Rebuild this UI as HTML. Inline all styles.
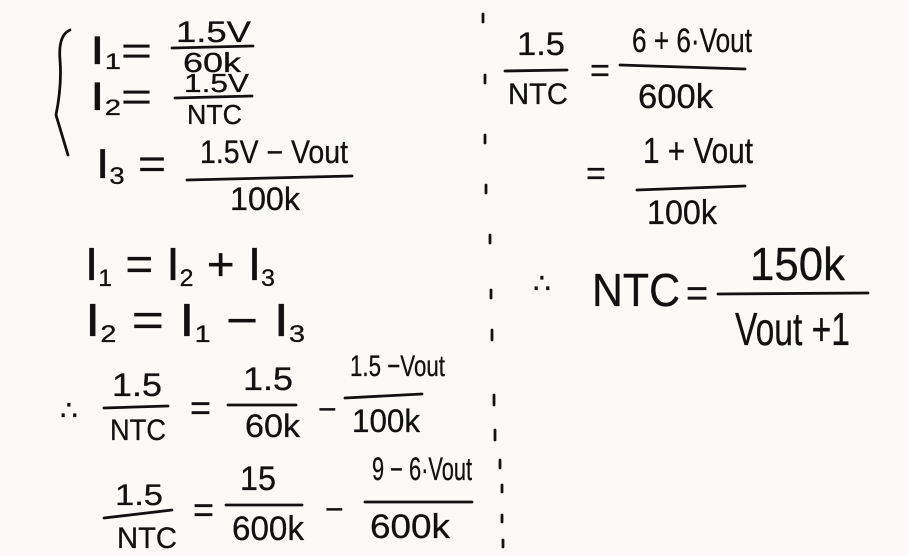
<!DOCTYPE html>
<html><head><meta charset="utf-8"><style>
html,body{margin:0;padding:0;background:#fbfaf6;}
svg{display:block}
text{font-family:"Liberation Sans",sans-serif;fill:#111;stroke:#111;stroke-width:0.3}
line,path{stroke:#111;stroke-width:2.8;stroke-linecap:round;fill:none}
</style></head><body>
<svg width="909" height="556" viewBox="0 0 909 556">
<path d="M70 30 Q58 35 60 60 Q62 85 56 115 Q62 135 68 155"/>
<text x="90" y="64" font-size="40" textLength="62" lengthAdjust="spacingAndGlyphs">I<tspan font-size="22" dy="5">1</tspan><tspan dy="-5">=</tspan></text>
<text x="176" y="42" font-size="30" textLength="75" lengthAdjust="spacingAndGlyphs">1.5V</text>
<line x1="172" y1="48" x2="253" y2="46"/>
<text x="183" y="72" font-size="28" textLength="58" lengthAdjust="spacingAndGlyphs">60k</text>
<text x="90" y="110" font-size="40" textLength="62" lengthAdjust="spacingAndGlyphs">I<tspan font-size="22" dy="5">2</tspan><tspan dy="-5">=</tspan></text>
<text x="184" y="92" font-size="26" textLength="65" lengthAdjust="spacingAndGlyphs">1.5V</text>
<line x1="175" y1="98" x2="252" y2="96"/>
<text x="187" y="124" font-size="28" textLength="55" lengthAdjust="spacingAndGlyphs">NTC</text>
<text x="96" y="178" font-size="42" textLength="70" lengthAdjust="spacingAndGlyphs">I<tspan font-size="24" dy="6">3</tspan><tspan dy="-6"> =</tspan></text>
<text x="200" y="163" font-size="32" textLength="148" lengthAdjust="spacingAndGlyphs">1.5V − Vout</text>
<line x1="187" y1="180" x2="352" y2="176"/>
<text x="230" y="210" font-size="32" textLength="70" lengthAdjust="spacingAndGlyphs">100k</text>
<text x="85" y="280" font-size="46" textLength="190" lengthAdjust="spacingAndGlyphs">I<tspan font-size="24" dy="6">1</tspan><tspan dy="-6"> = I</tspan><tspan font-size="24" dy="6">2</tspan><tspan dy="-6"> + I</tspan><tspan font-size="24" dy="6">3</tspan></text>
<text x="85" y="336" font-size="46" textLength="220" lengthAdjust="spacingAndGlyphs">I<tspan font-size="24" dy="6">2</tspan><tspan dy="-6"> = I</tspan><tspan font-size="24" dy="6">1</tspan><tspan dy="-6"> − I</tspan><tspan font-size="24" dy="6">3</tspan></text>
<text x="60" y="420" font-size="28">∴</text>
<text x="112" y="396" font-size="32" textLength="50" lengthAdjust="spacingAndGlyphs">1.5</text>
<line x1="104" y1="408" x2="168" y2="406"/>
<text x="110" y="440" font-size="30" textLength="56" lengthAdjust="spacingAndGlyphs">NTC</text>
<text x="190" y="420" font-size="36">=</text>
<text x="243" y="390" font-size="32" textLength="50" lengthAdjust="spacingAndGlyphs">1.5</text>
<line x1="228" y1="405" x2="296" y2="405"/>
<text x="245" y="437" font-size="32" textLength="55" lengthAdjust="spacingAndGlyphs">60k</text>
<text x="318" y="420" font-size="32">−</text>
<text x="350" y="376" font-size="30" textLength="95" lengthAdjust="spacingAndGlyphs">1.5 −Vout</text>
<line x1="345" y1="398" x2="422" y2="394"/>
<text x="352" y="432" font-size="32" textLength="68" lengthAdjust="spacingAndGlyphs">100k</text>
<text x="115" y="505" font-size="30" textLength="48" lengthAdjust="spacingAndGlyphs">1.5</text>
<line x1="104" y1="518" x2="172" y2="510"/>
<text x="117" y="548" font-size="30" textLength="60" lengthAdjust="spacingAndGlyphs">NTC</text>
<text x="193" y="522" font-size="36">=</text>
<text x="240" y="490" font-size="34" textLength="36" lengthAdjust="spacingAndGlyphs">15</text>
<line x1="226" y1="505" x2="302" y2="505"/>
<text x="232" y="540" font-size="34" textLength="72" lengthAdjust="spacingAndGlyphs">600k</text>
<text x="325" y="520" font-size="32">−</text>
<text x="372" y="480" font-size="32" textLength="100" lengthAdjust="spacingAndGlyphs">9 − 6·Vout</text>
<line x1="365" y1="502" x2="472" y2="502"/>
<text x="370" y="538" font-size="34" textLength="80" lengthAdjust="spacingAndGlyphs">600k</text>
<g>
<line x1="483" y1="14" x2="483" y2="22"/><line x1="485" y1="75" x2="485" y2="83"/><line x1="485" y1="135" x2="485" y2="143"/>
<line x1="486" y1="185" x2="486" y2="193"/><line x1="490" y1="235" x2="490" y2="243"/><line x1="491" y1="290" x2="491" y2="298"/>
<line x1="492" y1="330" x2="492" y2="340"/><line x1="494" y1="395" x2="494" y2="405"/><line x1="495" y1="430" x2="495" y2="440"/>
<line x1="500" y1="460" x2="500" y2="468"/><line x1="502" y1="485" x2="502" y2="492"/><line x1="502" y1="515" x2="502" y2="522"/><line x1="503" y1="540" x2="503" y2="547"/>
</g>
<text x="517" y="55" font-size="32" textLength="48" lengthAdjust="spacingAndGlyphs">1.5</text>
<line x1="505" y1="71" x2="567" y2="70"/>
<text x="508" y="104" font-size="30" textLength="60" lengthAdjust="spacingAndGlyphs">NTC</text>
<text x="590" y="82" font-size="34">=</text>
<text x="632" y="52" font-size="34" textLength="120" lengthAdjust="spacingAndGlyphs">6 + 6·Vout</text>
<line x1="620" y1="65" x2="745" y2="69"/>
<text x="638" y="108" font-size="34" textLength="75" lengthAdjust="spacingAndGlyphs">600k</text>
<text x="586" y="185" font-size="34">=</text>
<text x="643" y="163" font-size="36" textLength="110" lengthAdjust="spacingAndGlyphs">1 + Vout</text>
<line x1="637" y1="190" x2="745" y2="186"/>
<text x="647" y="224" font-size="34" textLength="70" lengthAdjust="spacingAndGlyphs">100k</text>
<text x="533" y="293" font-size="28">∴</text>
<text x="592" y="306" font-size="46" textLength="88" lengthAdjust="spacingAndGlyphs">NTC</text>
<text x="686" y="306" font-size="38">=</text>
<text x="750" y="280" font-size="46" textLength="95" lengthAdjust="spacingAndGlyphs">150k</text>
<line x1="718" y1="294" x2="868" y2="293"/>
<text x="735" y="345" font-size="46" textLength="115" lengthAdjust="spacingAndGlyphs">Vout +1</text>
</svg>
</body></html>
